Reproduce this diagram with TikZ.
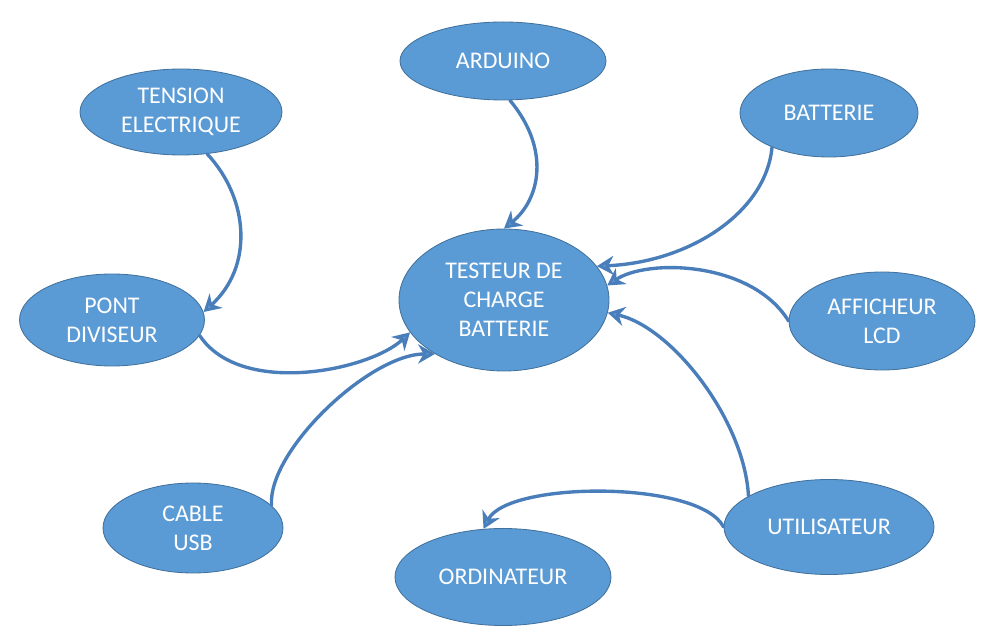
\documentclass[tikz,border=0pt]{standalone}
\usepackage{fontspec}
\setmainfont{Carlito}
\usepackage{xcolor}
\usetikzlibrary{arrows.meta,shapes.geometric}
\definecolor{NodeBlue}{HTML}{5B9BD5}
\definecolor{EdgeBlue}{HTML}{41719C}
\definecolor{ArrowBlue}{HTML}{4A7EBB}
\tikzset{
  bubble/.style={ellipse, draw=EdgeBlue, fill=NodeBlue, line width=0.6pt, text=white, align=center, inner sep=0pt, font=\fontsize{17}{20.6}\selectfont},
  flow/.style={-{Stealth[length=4.2mm, width=4.8mm, fill=NodeBlue]}, line width=2.4pt, draw=ArrowBlue, line cap=round}
}
\begin{document}
\begin{tikzpicture}
\useasboundingbox (0,0) rectangle (24.875,15.875);
\node[bubble, minimum width=5.15cm, minimum height=1.95cm] (arduino) at (12.575,14.35) {ARDUINO};
\node[bubble, minimum width=5.05cm, minimum height=2.15cm] (tension) at (4.525,13.075) {TENSION\\ELECTRIQUE};
\node[bubble, minimum width=4.45cm, minimum height=2.2cm] (batterie) at (20.725,13.05) {BATTERIE};
\node[bubble, minimum width=5.25cm, minimum height=3.55cm] (testeur) at (12.6,8.375) {TESTEUR DE\\CHARGE\\BATTERIE};
\node[bubble, minimum width=4.625cm, minimum height=2.3cm] (pont) at (2.8,7.875) {PONT\\DIVISEUR};
\node[bubble, minimum width=4.65cm, minimum height=2.45cm] (afficheur) at (22.05,7.85) {AFFICHEUR\\LCD};
\node[bubble, minimum width=4.5cm, minimum height=2.25cm] (cable) at (4.825,2.675) {CABLE\\USB};
\node[bubble, minimum width=5.25cm, minimum height=2.375cm] (utilisateur) at (20.725,2.7) {UTILISATEUR};
\node[bubble, minimum width=5.4cm, minimum height=2.425cm] (ordinateur) at (12.575,1.45) {ORDINATEUR};
% curved links towards the tester
\draw[flow] (tension.-58) .. controls +(1.05,-1.125) and +(1.25,1.125) .. (pont.5);
\draw[flow] (arduino.-80) .. controls +(1.025,-1.225) and +(0.9,0.725) .. (testeur.90);
\draw[flow] (batterie.-149) .. controls +(-0.15,-1.625) and +(2.325,0.1) .. (testeur.20);
\draw[flow] (afficheur.180) .. controls +(-0.925,1.5) and +(1.0,0.675) .. (testeur.8);
\draw[flow] (pont.-10) .. controls +(1.025,-1.55) and +(-1.0,-0.95) .. (testeur.199);
\draw[flow] (cable.16) .. controls +(-0.1,1.375) and +(-1.625,0) .. (testeur.218);
\draw[flow] (utilisateur.159) .. controls +(-0.1,1.9) and +(1.6,-0.35) .. (testeur.-7);
\draw[flow] (utilisateur.180) .. controls +(-0.6,1.175) and +(0.6,1.2) .. (ordinateur.112);
\end{tikzpicture}
\end{document}
